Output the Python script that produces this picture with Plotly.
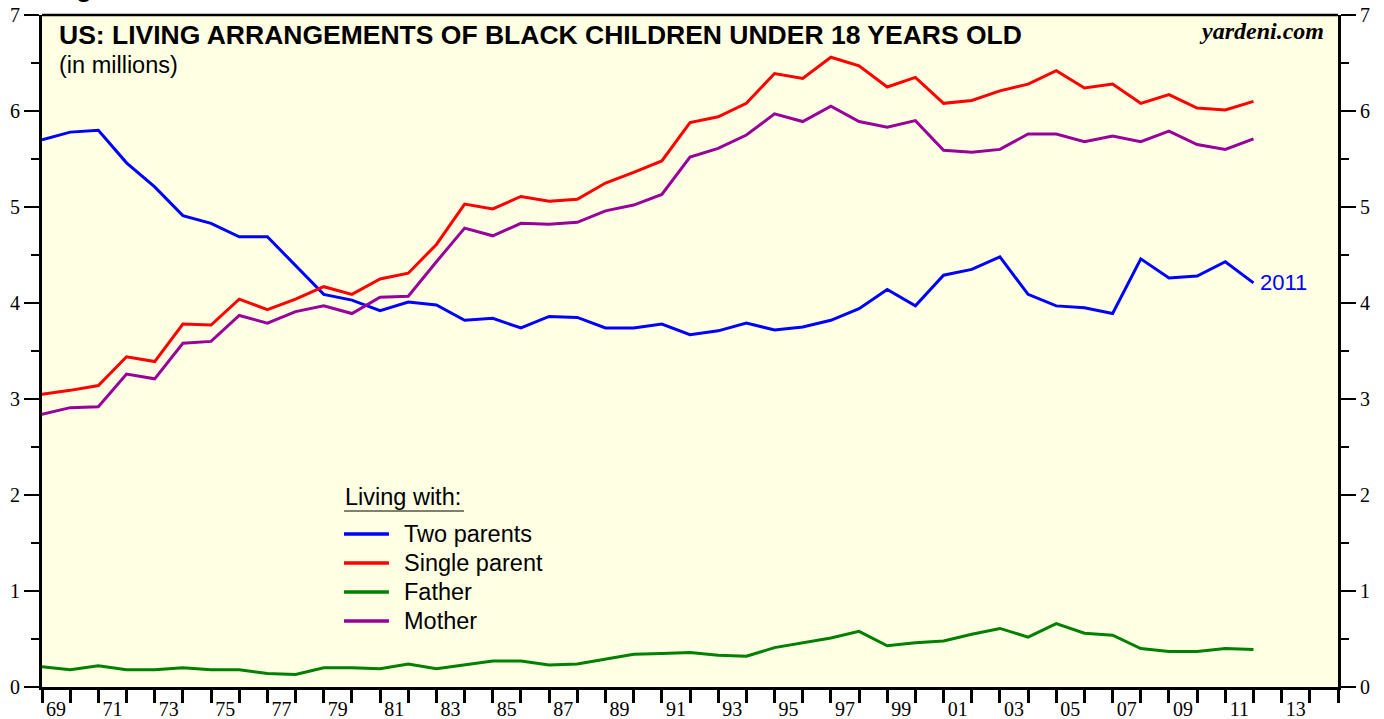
import plotly.graph_objects as go

years = list(range(1968, 2012))

two_parents = [5.70, 5.78, 5.80, 5.46, 5.21, 4.91, 4.83, 4.69, 4.69, 4.39,
               4.09, 4.03, 3.92, 4.01, 3.98, 3.82, 3.84, 3.74, 3.86, 3.85,
               3.74, 3.74, 3.78, 3.67, 3.71, 3.79, 3.72, 3.75, 3.82, 3.94,
               4.14, 3.97, 4.29, 4.35, 4.48, 4.09, 3.97, 3.95, 3.89, 4.46,
               4.26, 4.28, 4.43, 4.21]
single_parent = [3.05, 3.09, 3.14, 3.44, 3.39, 3.78, 3.77, 4.04, 3.93, 4.04,
                 4.17, 4.09, 4.25, 4.31, 4.61, 5.03, 4.98, 5.11, 5.06, 5.08,
                 5.25, 5.36, 5.48, 5.88, 5.94, 6.08, 6.39, 6.34, 6.56, 6.47,
                 6.25, 6.35, 6.08, 6.11, 6.21, 6.28, 6.42, 6.24, 6.28, 6.08,
                 6.17, 6.03, 6.01, 6.10]
father = [0.21, 0.18, 0.22, 0.18, 0.18, 0.20, 0.18, 0.18, 0.14, 0.13,
          0.20, 0.20, 0.19, 0.24, 0.19, 0.23, 0.27, 0.27, 0.23, 0.24,
          0.29, 0.34, 0.35, 0.36, 0.33, 0.32, 0.41, 0.46, 0.51, 0.58,
          0.43, 0.46, 0.48, 0.55, 0.61, 0.52, 0.66, 0.56, 0.54, 0.40,
          0.37, 0.37, 0.40, 0.39]
mother = [2.84, 2.91, 2.92, 3.26, 3.21, 3.58, 3.60, 3.87, 3.79, 3.91,
          3.97, 3.89, 4.06, 4.07, 4.43, 4.78, 4.70, 4.83, 4.82, 4.84,
          4.96, 5.02, 5.13, 5.52, 5.61, 5.75, 5.97, 5.89, 6.05, 5.89,
          5.83, 5.90, 5.59, 5.57, 5.60, 5.76, 5.76, 5.68, 5.74, 5.68,
          5.79, 5.65, 5.60, 5.71]

series_names = ["Two parents", "Single parent", "Father", "Mother"]
series_colors = ["#0000FF", "#FF0000", "#008000", "#990099"]
series_values = [two_parents, single_parent, father, mother]

tick_years = list(range(1969, 2016))
label_years = list(range(1969, 2014, 2))
tick_labels = [f"{y % 100:02d}" for y in label_years]

# data for year Y is plotted at the end of year Y
xpos = [y + 1 for y in years]

fig = go.Figure()
for name, color, vals in zip(series_names, series_colors, series_values):
    fig.add_trace(go.Scatter(x=xpos, y=vals, mode="lines", name=name,
                             line=dict(color=color, width=3), showlegend=False))

# dummy trace on secondary axes to carry x labels / right axis
fig.add_trace(go.Scatter(x=[xpos[0]], y=[None], xaxis="x2", yaxis="y2",
                         showlegend=False, hoverinfo="skip"))

serif = "Liberation Serif, Times New Roman, serif"
sans = "Liberation Sans, Arial, sans-serif"

fig.update_layout(
    width=1384, height=719,
    margin=dict(l=42, r=46, t=15, b=32),
    paper_bgcolor="white",
    plot_bgcolor="#FFFFE4",
    showlegend=False,
    xaxis=dict(
        range=[1969, 2015], tickmode="array", tickvals=tick_years,
        ticktext=[""] * len(tick_years), ticks="outside", ticklen=13,
        tickwidth=2.5, tickcolor="black", showgrid=False, zeroline=False,
        showline=True, linecolor="black", linewidth=3, mirror=False,
        automargin=False,
    ),
    xaxis2=dict(
        range=[1969, 2015], overlaying="x", side="bottom", anchor="y",
        tickmode="array", tickvals=[y + 0.5 for y in label_years],
        ticktext=tick_labels, ticks="outside", ticklen=4,
        tickcolor="rgba(0,0,0,0)", showgrid=False, zeroline=False,
        showline=False, tickfont=dict(family=serif, size=20, color="black"),
        automargin=False,
    ),
    yaxis=dict(
        range=[0, 7], tickmode="linear", tick0=0, dtick=1, ticks="outside",
        ticklen=15, tickwidth=1.5, tickcolor="black", showgrid=False,
        zeroline=False, showline=True, linecolor="black", linewidth=3,
        tickfont=dict(family=serif, size=20, color="black"), automargin=False,
        minor=dict(dtick=0.5, tick0=0, ticks="outside", ticklen=8,
                   tickwidth=1.5, tickcolor="black", showgrid=False),
    ),
    yaxis2=dict(
        range=[0, 7], overlaying="y", side="right", anchor="x",
        tickmode="linear", tick0=0, dtick=1, ticks="outside",
        ticklen=15, tickwidth=1.5, tickcolor="black", showgrid=False,
        zeroline=False, showline=True, linecolor="black", linewidth=3,
        tickfont=dict(family=serif, size=20, color="black"), automargin=False,
        minor=dict(dtick=0.5, tick0=0, ticks="outside", ticklen=8,
                   tickwidth=1.5, tickcolor="black", showgrid=False),
    ),
)

# top border of plot area
fig.add_shape(type="line", xref="paper", yref="paper", x0=0, x1=1, y0=1, y1=1,
              line=dict(color="black", width=2.5))

# cut-off glyph of a heading above the chart
fig.add_annotation(xref="paper", yref="paper", x=0.0324, y=1.0149,
                   xanchor="center", yanchor="bottom", showarrow=False,
                   text="<b>g</b>", font=dict(family=sans, size=26, color="black"))

fig.add_annotation(xref="paper", yref="paper", x=0.0116, y=0.970,
                   xanchor="left", yanchor="middle", showarrow=False,
                   text="<b>US: LIVING ARRANGEMENTS OF BLACK CHILDREN UNDER 18 YEARS OLD</b>",
                   font=dict(family=sans, size=26.5, color="black"))
fig.add_annotation(xref="paper", yref="paper", x=0.0116, y=0.9256,
                   xanchor="left", yanchor="middle", showarrow=False,
                   text="(in millions)",
                   font=dict(family=sans, size=23.5, color="black"))
fig.add_annotation(xref="paper", yref="paper", x=0.9907, y=0.976,
                   xanchor="right", yanchor="middle", showarrow=False,
                   text="<b><i>yardeni.com</i></b>",
                   font=dict(family=serif, size=24, color="black"))
fig.add_annotation(x=xpos[-1], y=two_parents[-1], xref="x", yref="y",
                   xanchor="left", yanchor="middle", showarrow=False,
                   xshift=5, text=str(years[-1]),
                   font=dict(family=sans, size=22, color="#0000FF"))

# legend (drawn manually to match spacing)
leg_x0, leg_x1, leg_tx = 0.2330, 0.2677, 0.2778
leg_ys = [0.2277, 0.1845, 0.1414, 0.0982]
fig.add_annotation(xref="paper", yref="paper", x=0.2320, y=0.2827,
                   xanchor="left", yanchor="middle", showarrow=False,
                   text="Living with:", font=dict(family=sans, size=23.5, color="black"))
fig.add_shape(type="line", xref="paper", yref="paper", x0=0.2330, x1=0.3256,
              y0=0.2619, y1=0.2619, line=dict(color="black", width=1.2))
for name, color, ly in zip(series_names, series_colors, leg_ys):
    fig.add_shape(type="line", xref="paper", yref="paper", x0=leg_x0, x1=leg_x1,
                  y0=ly, y1=ly, line=dict(color=color, width=3.5))
    fig.add_annotation(xref="paper", yref="paper", x=leg_tx, y=ly,
                       xanchor="left", yanchor="middle", showarrow=False,
                       text=name, font=dict(family=sans, size=23.5, color="black"))

fig.write_html(
    "out.html",
    config={"displayModeBar": False},
    post_script="document.body.style.margin='0';document.body.style.overflow='hidden';",
)
